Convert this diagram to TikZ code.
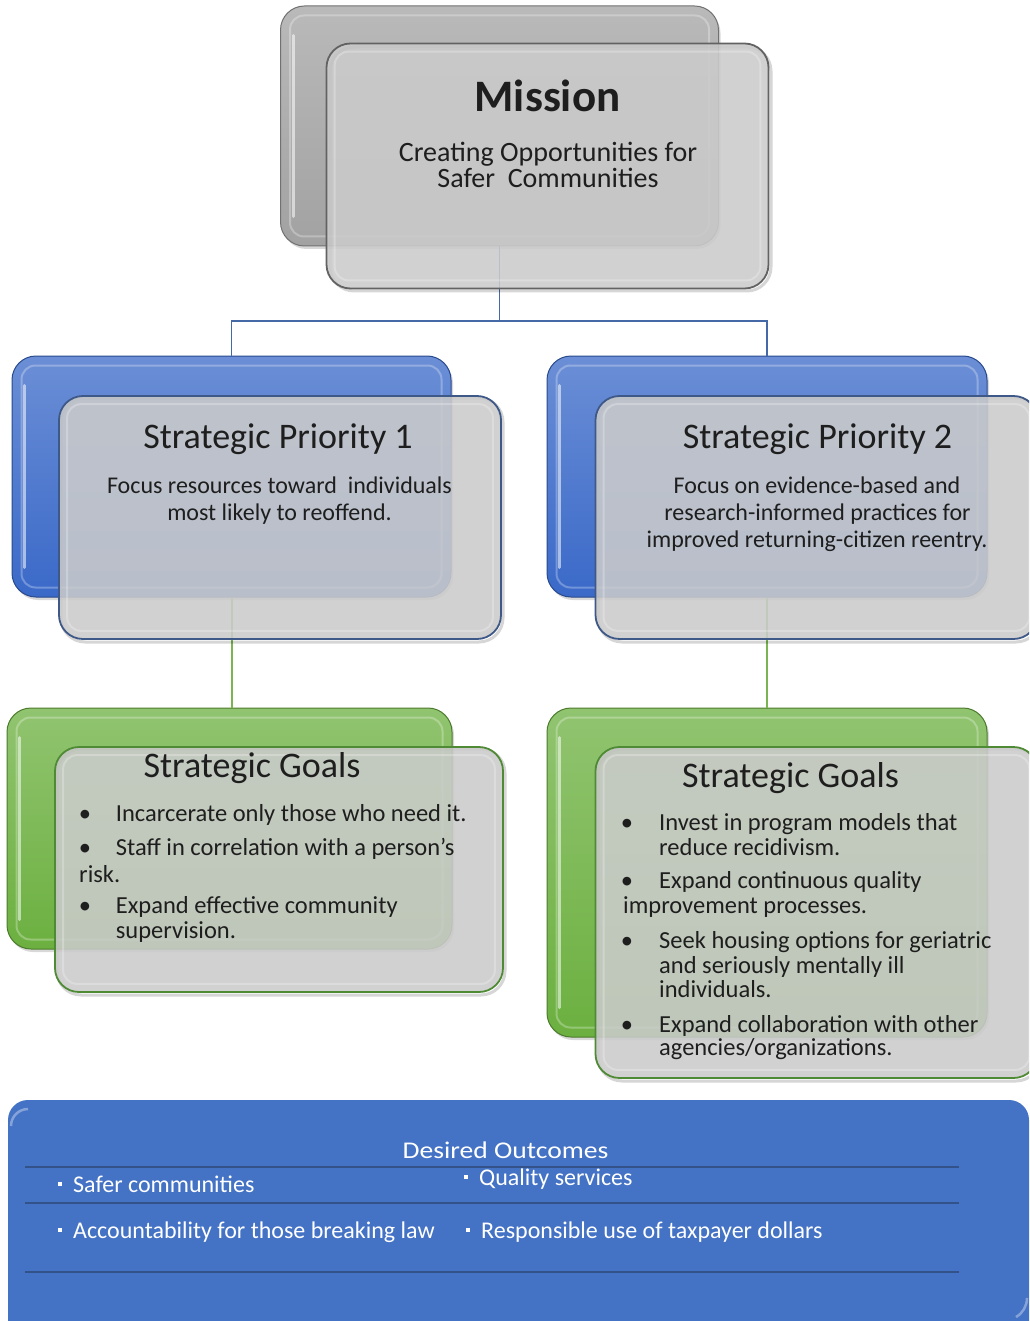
\documentclass[tikz,border=0pt]{standalone}
\usepackage{fontspec}
\setmainfont{Carlito}
\usetikzlibrary{shadows}
\definecolor{ink}{HTML}{1E1E1E}
\definecolor{frontgray}{HTML}{CBCBCB}
\definecolor{grayback}{HTML}{A2A2A2}
\definecolor{blueback}{HTML}{3A69C8}
\definecolor{greenback}{HTML}{6CB040}
\definecolor{conblue}{HTML}{4568A6}
\definecolor{congreen}{HTML}{7AB552}
\definecolor{outblue}{HTML}{4472C4}
\definecolor{rulecol}{HTML}{34528A}
\definecolor{edgegray}{HTML}{626262}
\definecolor{edgeblue}{HTML}{3E5887}
\definecolor{edgegreen}{HTML}{4F8A35}
\newcommand\mybevel[3]{\draw[#3] ([shift={(#2,#2)}]#1.north west) rectangle ([shift={(-#2,-#2)}]#1.south east);}
\newcommand\mystreak[1]{\draw[white, opacity=0.55, line width=3pt, line cap=round] ([shift={(13,30)}]#1.north west) -- ([shift={(13,-30)}]#1.south west);}
\newcommand\sqbul{\raisebox{6pt}{\rule{4pt}{4pt}}\hspace{11pt}}
\begin{document}
\begin{tikzpicture}[x=1pt,y=-1pt,
  boxbase/.style={rectangle, rounded corners=24pt, inner sep=0pt},
  backbox/.style={boxbase, draw=#1!70!black, line width=1pt, top color=#1!75!white, bottom color=#1,
     drop shadow={opacity=0.3, shadow xshift=2pt, shadow yshift=-3pt}},
  frontbox/.style={boxbase, draw=#1, line width=1.8pt, fill=frontgray, fill opacity=0.88},
  fshadow/.style={draw=black, opacity=0.16, line width=3pt, rounded corners=24pt},
  shine/.style={draw=white, opacity=0.28, line width=2pt, rounded corners=14pt},
  fshine/.style={draw=white, opacity=0.25, line width=2pt, rounded corners=14pt},
  lbl/.style={inner sep=0pt, text=ink, anchor=base},
  lw/.style={lbl, anchor=base west},
  hfont/.style={font=\fontsize{36}{40}\selectfont},
  bfont/.style={font=\fontsize{24}{27}\selectfont},
  gfont/.style={font=\fontsize{24.5}{27}\selectfont},
  wfont/.style={inner sep=0pt, text=white, anchor=base west, font=\fontsize{24}{27}\selectfont},
  conn/.style={draw=conblue, line width=1.5pt},
  conng/.style={draw=congreen, line width=2pt},
]
\useasboundingbox (0,0) rectangle (1029,1321);
\clip (0,0) rectangle (1029,1321);
\fill[white] (0,0) rectangle (1029,1321);

% back boxes
\node[backbox=grayback, minimum width=438pt, minimum height=240pt] (mb) at (499.5,126) {};
\node[backbox=blueback, minimum width=439pt, minimum height=241pt] (s1b) at (231.5,476.5) {};
\node[backbox=blueback, minimum width=440pt, minimum height=241pt] (s2b) at (767,476.5) {};
\node[backbox=greenback, minimum width=445pt, minimum height=241pt] (g1b) at (229.5,828.5) {};
\node[backbox=greenback, minimum width=440pt, minimum height=329pt] (g2b) at (767,872.5) {};
\mybevel{mb}{10}{shine}
\mybevel{s1b}{10}{shine}
\mybevel{s2b}{10}{shine}
\mybevel{g1b}{10}{shine}
\mybevel{g2b}{10}{shine}
\mystreak{mb}
\mystreak{s1b}
\mystreak{s2b}
\mystreak{g1b}
\mystreak{g2b}

% connectors
\coordinate (hb) at (499.5,321);
\draw[conn] (mb.south) -- (hb) -| (s1b.north);
\draw[conn] (hb) -| (s2b.north);
\draw[conng] (s1b.south) -- (s1b.south |- g1b.north);
\draw[conng] (s2b.south) -- (s2b.south |- g2b.north);

% front boxes
\draw[fshadow] (330,47) rectangle (771,291);
\node[frontbox=edgegray, minimum width=442pt, minimum height=245pt] (mf) at (547.5,166) {};
\draw[fshadow] (61,398) rectangle (503,642);
\node[frontbox=edgeblue, minimum width=442pt, minimum height=243pt] (s1f) at (280,517.5) {};
\draw[fshadow] (598,398) rectangle (1040,642);
\node[frontbox=edgeblue, minimum width=442pt, minimum height=243pt] (s2f) at (816.5,517.5) {};
\draw[fshadow] (57,749) rectangle (505,995);
\node[frontbox=edgegreen, minimum width=448pt, minimum height=245pt] (g1f) at (279,869.5) {};
\draw[fshadow] (598,749) rectangle (1040,1081);
\node[frontbox=edgegreen, minimum width=442pt, minimum height=331pt] (g2f) at (816.5,912.5) {};
\mybevel{mf}{9}{fshine}
\mybevel{s1f}{9}{fshine}
\mybevel{s2f}{9}{fshine}
\mybevel{g1f}{9}{fshine}
\mybevel{g2f}{9}{fshine}

% mission text
\node[lbl, font=\fontsize{45}{50}\selectfont\bfseries] (mt) at (547.5,112) {Mission};
\node[lbl, font=\fontsize{28}{30}\selectfont] (m1) at (548,162) {Creating Opportunities for};
\node[lbl, font=\fontsize{28}{30}\selectfont] (m2) at (548,188) {Safer\ \ Communities};

% strategic priority 1
\node[lbl, hfont] (s1t) at (278,448) {Strategic Priority 1};
\node[lbl, bfont] (s1a) at (279.5,493) {Focus resources toward\ \ individuals};
\node[lbl, bfont] (s1c) at (279.5,520) {most likely to reoffend.};

% strategic priority 2
\node[lbl, hfont] (s2t) at (817.5,448) {Strategic Priority 2};
\node[lbl, bfont] (s2a) at (817,493) {Focus on evidence-based and};
\node[lbl, bfont] (s2c) at (817.5,520) {research-informed practices for};
\node[lbl, bfont] (s2d) at (817,547) {improved returning-citizen reentry.};

% goals 1
\node[lbl, hfont] (g1t) at (252,777) {Strategic Goals};
\node[lbl, gfont] (g1b1) at (85,821) {•};
\node[lw, gfont] (g1l1) at (115.7,821) {Incarcerate only those who need it.};
\node[lbl, gfont] (g1b2) at (85,855) {•};
\node[lw, gfont] (g1l2) at (115.7,855) {Staff in correlation with a person's};
\node[lw, gfont] (g1l3) at (79,882) {risk.};
\node[lbl, gfont] (g1b3) at (85,913) {•};
\node[lw, gfont] (g1l4) at (115.7,913) {Expand effective community};
\node[lw, gfont] (g1l5) at (115.7,938) {supervision.};

% goals 2
\node[lbl, hfont] (g2t) at (790.5,787) {Strategic Goals};
\node[lbl, gfont] (g2b1) at (627,830) {•};
\node[lw, gfont] (g2l1) at (659,830) {Invest in program models that};
\node[lw, gfont] (g2l2) at (659,855) {reduce recidivism.};
\node[lbl, gfont] (g2b2) at (627,888) {•};
\node[lw, gfont] (g2l3) at (659,888) {Expand continuous quality};
\node[lw, gfont] (g2l4) at (623,913) {improvement processes.};
\node[lbl, gfont] (g2b3) at (627,948) {•};
\node[lw, gfont] (g2l5) at (659,948) {Seek housing options for geriatric};
\node[lw, gfont] (g2l6) at (659,973) {and seriously mentally ill};
\node[lw, gfont] (g2l7) at (659,997) {individuals.};
\node[lbl, gfont] (g2b4) at (627,1032) {•};
\node[lw, gfont] (g2l8) at (659,1032) {Expand collaboration with other};
\node[lw, gfont] (g2l9) at (659,1055) {agencies/organizations.};

% desired outcomes
\path[fill=outblue, rounded corners=20pt] (8,1100) rectangle (1029,1350);
\node[inner sep=0pt, minimum width=1021pt, minimum height=250pt] (out) at (518.5,1225) {};
\draw[white, opacity=0.35, line width=2.5pt] (11,1126) arc[start angle=180, end angle=90, radius=17pt];
\draw[white, opacity=0.35, line width=2.5pt] (1027,1298) arc[start angle=0, end angle=-60, radius=22pt];
\draw[rulecol, line width=1.6pt] (25,1167) -- (959,1167);
\draw[rulecol, line width=1.6pt] (25,1203) -- (959,1203);
\draw[rulecol, line width=1.6pt] (25,1272) -- (959,1272);
\node[inner sep=0pt, text=white, anchor=base, font=\fontsize{24}{27}\selectfont] (ot) at (505.5,1158) {\scalebox{1.15}[1]{Desired Outcomes}};
\node[wfont] (o1) at (58,1192) {\sqbul Safer communities};
\node[wfont] (o2) at (464,1185) {\sqbul Quality services};
\node[wfont] (o3) at (58,1238) {\sqbul Accountability for those breaking law};
\node[wfont] (o4) at (466,1238) {\sqbul Responsible use of taxpayer dollars};
\end{tikzpicture}
\end{document}
